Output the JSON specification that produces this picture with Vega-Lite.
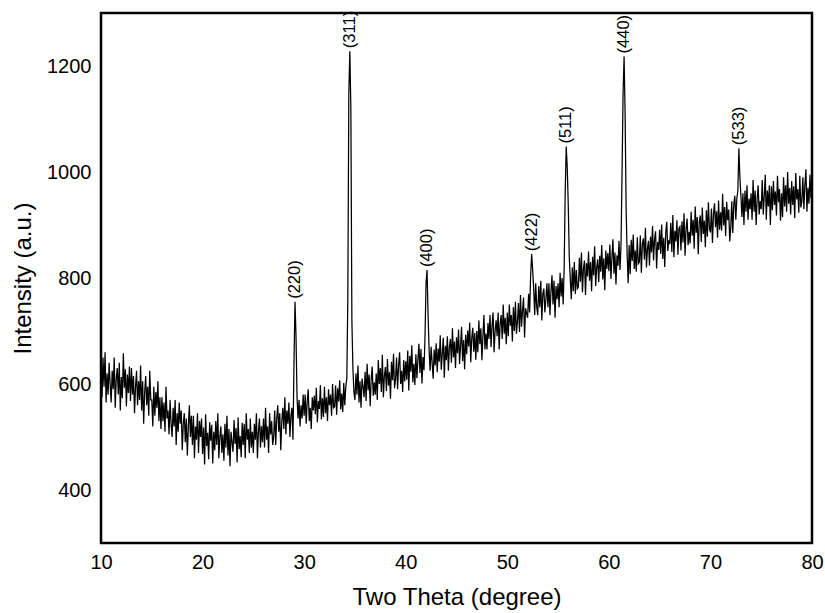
{
"$schema": "https://vega.github.io/schema/vega-lite/v6.json",
"autosize": "none",
"width": 711,
"height": 530,
"padding": {"left": 101, "top": 13, "right": 13, "bottom": 70},
"background": "white",
"config": {
"font": "Liberation Sans",
"view": {"stroke": "black", "strokeWidth": 2.5},
"axis": {"domain": false, "ticks": false, "grid": false, "labelFontSize": 20, "titleFontSize": 24, "labelColor": "black", "titleColor": "black", "titleFontWeight": "normal", "labelFont": "Liberation Sans", "titleFont": "Liberation Sans", "labelFlush": false, "labelOverlap": false}
},
"datasets": {
"xrd": [
{"x":10.0,"y":625},{"x":10.1,"y":575},{"x":10.2,"y":650},{"x":10.3,"y":595},{"x":10.4,"y":660},{"x":10.5,"y":565},{"x":10.6,"y":620},{"x":10.7,"y":580},{"x":10.8,"y":640},{"x":10.9,"y":600},
{"x":11.0,"y":565},{"x":11.1,"y":625},{"x":11.2,"y":590},{"x":11.3,"y":650},{"x":11.4,"y":555},{"x":11.5,"y":610},{"x":11.6,"y":630},{"x":11.7,"y":580},{"x":11.8,"y":640},{"x":11.9,"y":550},
{"x":12.0,"y":613},{"x":12.1,"y":573},{"x":12.2,"y":658},{"x":12.3,"y":593},{"x":12.4,"y":628},{"x":12.5,"y":558},{"x":12.6,"y":618},{"x":12.7,"y":583},{"x":12.8,"y":633},{"x":12.9,"y":568},
{"x":13.0,"y":630},{"x":13.1,"y":580},{"x":13.2,"y":615},{"x":13.3,"y":545},{"x":13.4,"y":595},{"x":13.5,"y":625},{"x":13.6,"y":560},{"x":13.7,"y":605},{"x":13.8,"y":570},{"x":13.9,"y":635},
{"x":14.0,"y":550},{"x":14.1,"y":605},{"x":14.2,"y":525},{"x":14.3,"y":585},{"x":14.4,"y":615},{"x":14.5,"y":560},{"x":14.6,"y":595},{"x":14.7,"y":540},{"x":14.8,"y":625},{"x":14.9,"y":570},
{"x":15.0,"y":570},{"x":15.1,"y":520},{"x":15.2,"y":595},{"x":15.3,"y":540},{"x":15.4,"y":585},{"x":15.5,"y":555},{"x":15.6,"y":605},{"x":15.7,"y":530},{"x":15.8,"y":575},{"x":15.9,"y":515},
{"x":16.0,"y":575},{"x":16.1,"y":530},{"x":16.2,"y":565},{"x":16.3,"y":510},{"x":16.4,"y":595},{"x":16.5,"y":535},{"x":16.6,"y":550},{"x":16.7,"y":505},{"x":16.8,"y":570},{"x":16.9,"y":525},
{"x":17.0,"y":500},{"x":17.1,"y":555},{"x":17.2,"y":520},{"x":17.3,"y":570},{"x":17.4,"y":485},{"x":17.5,"y":545},{"x":17.6,"y":510},{"x":17.7,"y":565},{"x":17.8,"y":525},{"x":17.9,"y":550},
{"x":18.0,"y":475},{"x":18.1,"y":525},{"x":18.2,"y":545},{"x":18.3,"y":490},{"x":18.4,"y":535},{"x":18.5,"y":465},{"x":18.6,"y":520},{"x":18.7,"y":560},{"x":18.8,"y":500},{"x":18.9,"y":540},
{"x":19.0,"y":485},{"x":19.1,"y":540},{"x":19.2,"y":460},{"x":19.3,"y":520},{"x":19.4,"y":495},{"x":19.5,"y":545},{"x":19.6,"y":470},{"x":19.7,"y":530},{"x":19.8,"y":500},{"x":19.9,"y":535},
{"x":20.0,"y":468},{"x":20.1,"y":518},{"x":20.2,"y":448},{"x":20.3,"y":543},{"x":20.4,"y":483},{"x":20.5,"y":508},{"x":20.6,"y":458},{"x":20.7,"y":528},{"x":20.8,"y":493},{"x":20.9,"y":523},
{"x":21.0,"y":450},{"x":21.1,"y":510},{"x":21.2,"y":475},{"x":21.3,"y":530},{"x":21.4,"y":485},{"x":21.5,"y":545},{"x":21.6,"y":460},{"x":21.7,"y":500},{"x":21.8,"y":520},{"x":21.9,"y":470},
{"x":22.0,"y":505},{"x":22.1,"y":455},{"x":22.2,"y":525},{"x":22.3,"y":480},{"x":22.4,"y":540},{"x":22.5,"y":465},{"x":22.6,"y":515},{"x":22.7,"y":445},{"x":22.8,"y":510},{"x":22.9,"y":490},
{"x":23.0,"y":472},{"x":23.1,"y":532},{"x":23.2,"y":487},{"x":23.3,"y":517},{"x":23.4,"y":452},{"x":23.5,"y":537},{"x":23.6,"y":477},{"x":23.7,"y":502},{"x":23.8,"y":462},{"x":23.9,"y":527},
{"x":24.0,"y":485},{"x":24.1,"y":525},{"x":24.2,"y":460},{"x":24.3,"y":545},{"x":24.4,"y":495},{"x":24.5,"y":515},{"x":24.6,"y":470},{"x":24.7,"y":535},{"x":24.8,"y":480},{"x":24.9,"y":510},
{"x":25.0,"y":470},{"x":25.1,"y":525},{"x":25.2,"y":495},{"x":25.3,"y":545},{"x":25.4,"y":460},{"x":25.5,"y":510},{"x":25.6,"y":535},{"x":25.7,"y":480},{"x":25.8,"y":520},{"x":25.9,"y":490},
{"x":26.0,"y":535},{"x":26.1,"y":480},{"x":26.2,"y":555},{"x":26.3,"y":495},{"x":26.4,"y":520},{"x":26.5,"y":470},{"x":26.6,"y":545},{"x":26.7,"y":505},{"x":26.8,"y":530},{"x":26.9,"y":485},
{"x":27.0,"y":500},{"x":27.1,"y":550},{"x":27.2,"y":485},{"x":27.3,"y":535},{"x":27.4,"y":560},{"x":27.5,"y":510},{"x":27.6,"y":545},{"x":27.7,"y":475},{"x":27.8,"y":530},{"x":27.9,"y":555},
{"x":28.0,"y":515},{"x":28.1,"y":575},{"x":28.2,"y":505},{"x":28.3,"y":550},{"x":28.4,"y":525},{"x":28.5,"y":565},{"x":28.6,"y":500},{"x":28.7,"y":540},{"x":28.8,"y":555},{"x":28.9,"y":495},
{"x":29.0,"y":640},{"x":29.1,"y":755},{"x":29.2,"y":690},{"x":29.3,"y":575},{"x":29.4,"y":535},{"x":29.5,"y":570},{"x":29.6,"y":520},{"x":29.7,"y":560},{"x":29.8,"y":535},{"x":29.9,"y":580},
{"x":30.0,"y":540},{"x":30.1,"y":580},{"x":30.2,"y":525},{"x":30.3,"y":565},{"x":30.4,"y":590},{"x":30.5,"y":530},{"x":30.6,"y":555},{"x":30.7,"y":515},{"x":30.8,"y":575},{"x":30.9,"y":550},
{"x":31.0,"y":578},{"x":31.1,"y":543},{"x":31.2,"y":593},{"x":31.3,"y":528},{"x":31.4,"y":568},{"x":31.5,"y":553},{"x":31.6,"y":598},{"x":31.7,"y":533},{"x":31.8,"y":573},{"x":31.9,"y":538},
{"x":32.0,"y":595},{"x":32.1,"y":545},{"x":32.2,"y":575},{"x":32.3,"y":530},{"x":32.4,"y":590},{"x":32.5,"y":560},{"x":32.6,"y":580},{"x":32.7,"y":540},{"x":32.8,"y":600},{"x":32.9,"y":555},
{"x":33.0,"y":557},{"x":33.1,"y":597},{"x":33.2,"y":542},{"x":33.3,"y":592},{"x":33.4,"y":567},{"x":33.5,"y":607},{"x":33.6,"y":552},{"x":33.7,"y":582},{"x":33.8,"y":547},{"x":33.9,"y":602},
{"x":34.0,"y":560},{"x":34.1,"y":595},{"x":34.2,"y":610},{"x":34.3,"y":760},{"x":34.4,"y":1150},{"x":34.5,"y":1228},{"x":34.6,"y":1120},{"x":34.7,"y":720},{"x":34.8,"y":630},{"x":34.9,"y":585},
{"x":35.0,"y":570},{"x":35.1,"y":620},{"x":35.2,"y":580},{"x":35.3,"y":635},{"x":35.4,"y":565},{"x":35.5,"y":605},{"x":35.6,"y":555},{"x":35.7,"y":610},{"x":35.8,"y":595},{"x":35.9,"y":575},
{"x":36.0,"y":623},{"x":36.1,"y":568},{"x":36.2,"y":638},{"x":36.3,"y":588},{"x":36.4,"y":618},{"x":36.5,"y":558},{"x":36.6,"y":608},{"x":36.7,"y":633},{"x":36.8,"y":578},{"x":36.9,"y":603},
{"x":37.0,"y":580},{"x":37.1,"y":620},{"x":37.2,"y":570},{"x":37.3,"y":645},{"x":37.4,"y":600},{"x":37.5,"y":630},{"x":37.6,"y":585},{"x":37.7,"y":655},{"x":37.8,"y":575},{"x":37.9,"y":615},
{"x":38.0,"y":632},{"x":38.1,"y":587},{"x":38.2,"y":647},{"x":38.3,"y":597},{"x":38.4,"y":622},{"x":38.5,"y":572},{"x":38.6,"y":642},{"x":38.7,"y":607},{"x":38.8,"y":657},{"x":38.9,"y":592},
{"x":39.0,"y":610},{"x":39.1,"y":650},{"x":39.2,"y":590},{"x":39.3,"y":635},{"x":39.4,"y":660},{"x":39.5,"y":600},{"x":39.6,"y":625},{"x":39.7,"y":585},{"x":39.8,"y":645},{"x":39.9,"y":605},
{"x":40.0,"y":643},{"x":40.1,"y":608},{"x":40.2,"y":663},{"x":40.3,"y":588},{"x":40.4,"y":653},{"x":40.5,"y":623},{"x":40.6,"y":673},{"x":40.7,"y":603},{"x":40.8,"y":638},{"x":40.9,"y":598},
{"x":41.0,"y":656},{"x":41.1,"y":611},{"x":41.2,"y":646},{"x":41.3,"y":676},{"x":41.4,"y":621},{"x":41.5,"y":666},{"x":41.6,"y":601},{"x":41.7,"y":651},{"x":41.8,"y":626},{"x":41.9,"y":690},
{"x":42.0,"y":790},{"x":42.1,"y":815},{"x":42.2,"y":730},{"x":42.3,"y":665},{"x":42.4,"y":625},{"x":42.5,"y":670},{"x":42.6,"y":640},{"x":42.7,"y":610},{"x":42.8,"y":665},{"x":42.9,"y":635},
{"x":43.0,"y":677},{"x":43.1,"y":622},{"x":43.2,"y":667},{"x":43.3,"y":642},{"x":43.4,"y":692},{"x":43.5,"y":627},{"x":43.6,"y":657},{"x":43.7,"y":687},{"x":43.8,"y":612},{"x":43.9,"y":672},
{"x":44.0,"y":645},{"x":44.1,"y":690},{"x":44.2,"y":625},{"x":44.3,"y":670},{"x":44.4,"y":685},{"x":44.5,"y":640},{"x":44.6,"y":705},{"x":44.7,"y":650},{"x":44.8,"y":680},{"x":44.9,"y":630},
{"x":45.0,"y":688},{"x":45.1,"y":658},{"x":45.2,"y":703},{"x":45.3,"y":638},{"x":45.4,"y":673},{"x":45.5,"y":708},{"x":45.6,"y":643},{"x":45.7,"y":683},{"x":45.8,"y":628},{"x":45.9,"y":693},
{"x":46.0,"y":656},{"x":46.1,"y":701},{"x":46.2,"y":671},{"x":46.3,"y":716},{"x":46.4,"y":641},{"x":46.5,"y":686},{"x":46.6,"y":706},{"x":46.7,"y":661},{"x":46.8,"y":696},{"x":46.9,"y":646},
{"x":47.0,"y":700},{"x":47.1,"y":660},{"x":47.2,"y":720},{"x":47.3,"y":675},{"x":47.4,"y":705},{"x":47.5,"y":645},{"x":47.6,"y":690},{"x":47.7,"y":730},{"x":47.8,"y":665},{"x":47.9,"y":695},
{"x":48.0,"y":665},{"x":48.1,"y":715},{"x":48.2,"y":685},{"x":48.3,"y":730},{"x":48.4,"y":670},{"x":48.5,"y":710},{"x":48.6,"y":735},{"x":48.7,"y":660},{"x":48.8,"y":700},{"x":48.9,"y":720},
{"x":49.0,"y":690},{"x":49.1,"y":735},{"x":49.2,"y":665},{"x":49.3,"y":715},{"x":49.4,"y":730},{"x":49.5,"y":685},{"x":49.6,"y":750},{"x":49.7,"y":695},{"x":49.8,"y":725},{"x":49.9,"y":675},
{"x":50.0,"y":735},{"x":50.1,"y":690},{"x":50.2,"y":750},{"x":50.3,"y":710},{"x":50.4,"y":730},{"x":50.5,"y":680},{"x":50.6,"y":745},{"x":50.7,"y":700},{"x":50.8,"y":755},{"x":50.9,"y":695},
{"x":51.0,"y":718},{"x":51.1,"y":753},{"x":51.2,"y":698},{"x":51.3,"y":768},{"x":51.4,"y":708},{"x":51.5,"y":738},{"x":51.6,"y":763},{"x":51.7,"y":688},{"x":51.8,"y":743},{"x":51.9,"y":733},
{"x":52.0,"y":725},{"x":52.1,"y":770},{"x":52.2,"y":735},{"x":52.3,"y":805},{"x":52.4,"y":845},{"x":52.5,"y":815},{"x":52.6,"y":780},{"x":52.7,"y":730},{"x":52.8,"y":790},{"x":52.9,"y":745},
{"x":53.0,"y":730},{"x":53.1,"y":785},{"x":53.2,"y":745},{"x":53.3,"y":795},{"x":53.4,"y":720},{"x":53.5,"y":770},{"x":53.6,"y":780},{"x":53.7,"y":735},{"x":53.8,"y":760},{"x":53.9,"y":790},
{"x":54.0,"y":745},{"x":54.1,"y":790},{"x":54.2,"y":730},{"x":54.3,"y":775},{"x":54.4,"y":805},{"x":54.5,"y":750},{"x":54.6,"y":795},{"x":54.7,"y":725},{"x":54.8,"y":785},{"x":54.9,"y":760},
{"x":55.0,"y":790},{"x":55.1,"y":745},{"x":55.2,"y":810},{"x":55.3,"y":765},{"x":55.4,"y":800},{"x":55.5,"y":750},{"x":55.6,"y":820},{"x":55.7,"y":960},{"x":55.8,"y":1048},{"x":55.9,"y":1010},
{"x":56.0,"y":940},{"x":56.1,"y":840},{"x":56.2,"y":800},{"x":56.3,"y":760},{"x":56.4,"y":820},{"x":56.5,"y":775},{"x":56.6,"y":830},{"x":56.7,"y":770},{"x":56.8,"y":815},{"x":56.9,"y":780},
{"x":57.0,"y":783},{"x":57.1,"y":838},{"x":57.2,"y":793},{"x":57.3,"y":848},{"x":57.4,"y":773},{"x":57.5,"y":818},{"x":57.6,"y":833},{"x":57.7,"y":768},{"x":57.8,"y":828},{"x":57.9,"y":803},
{"x":58.0,"y":850},{"x":58.1,"y":795},{"x":58.2,"y":830},{"x":58.3,"y":775},{"x":58.4,"y":840},{"x":58.5,"y":805},{"x":58.6,"y":860},{"x":58.7,"y":785},{"x":58.8,"y":820},{"x":58.9,"y":835},
{"x":59.0,"y":792},{"x":59.1,"y":842},{"x":59.2,"y":812},{"x":59.3,"y":862},{"x":59.4,"y":797},{"x":59.5,"y":837},{"x":59.6,"y":777},{"x":59.7,"y":852},{"x":59.8,"y":817},{"x":59.9,"y":847},
{"x":60.0,"y":813},{"x":60.1,"y":863},{"x":60.2,"y":798},{"x":60.3,"y":838},{"x":60.4,"y":873},{"x":60.5,"y":808},{"x":60.6,"y":848},{"x":60.7,"y":788},{"x":60.8,"y":843},{"x":60.9,"y":823},
{"x":61.0,"y":870},{"x":61.1,"y":815},{"x":61.2,"y":865},{"x":61.3,"y":1000},{"x":61.4,"y":1150},{"x":61.5,"y":1218},{"x":61.6,"y":1110},{"x":61.7,"y":930},{"x":61.8,"y":845},{"x":61.9,"y":790},
{"x":62.0,"y":862},{"x":62.1,"y":807},{"x":62.2,"y":872},{"x":62.3,"y":832},{"x":62.4,"y":882},{"x":62.5,"y":817},{"x":62.6,"y":852},{"x":62.7,"y":812},{"x":62.8,"y":877},{"x":62.9,"y":827},
{"x":63.0,"y":830},{"x":63.1,"y":880},{"x":63.2,"y":810},{"x":63.3,"y":865},{"x":63.4,"y":875},{"x":63.5,"y":835},{"x":63.6,"y":895},{"x":63.7,"y":820},{"x":63.8,"y":855},{"x":63.9,"y":870},
{"x":64.0,"y":823},{"x":64.1,"y":878},{"x":64.2,"y":848},{"x":64.3,"y":898},{"x":64.4,"y":833},{"x":64.5,"y":873},{"x":64.6,"y":888},{"x":64.7,"y":818},{"x":64.8,"y":868},{"x":64.9,"y":853},
{"x":65.0,"y":891},{"x":65.1,"y":846},{"x":65.2,"y":901},{"x":65.3,"y":836},{"x":65.4,"y":876},{"x":65.5,"y":821},{"x":65.6,"y":886},{"x":65.7,"y":906},{"x":65.8,"y":851},{"x":65.9,"y":871},
{"x":66.0,"y":864},{"x":66.1,"y":904},{"x":66.2,"y":849},{"x":66.3,"y":919},{"x":66.4,"y":839},{"x":66.5,"y":889},{"x":66.6,"y":869},{"x":66.7,"y":909},{"x":66.8,"y":844},{"x":66.9,"y":894},
{"x":67.0,"y":897},{"x":67.1,"y":852},{"x":67.2,"y":907},{"x":67.3,"y":867},{"x":67.4,"y":922},{"x":67.5,"y":842},{"x":67.6,"y":892},{"x":67.7,"y":912},{"x":67.8,"y":862},{"x":67.9,"y":887},
{"x":68.0,"y":865},{"x":68.1,"y":925},{"x":68.2,"y":880},{"x":68.3,"y":910},{"x":68.4,"y":855},{"x":68.5,"y":935},{"x":68.6,"y":885},{"x":68.7,"y":915},{"x":68.8,"y":845},{"x":68.9,"y":905},
{"x":69.0,"y":918},{"x":69.1,"y":868},{"x":69.2,"y":933},{"x":69.3,"y":883},{"x":69.4,"y":908},{"x":69.5,"y":858},{"x":69.6,"y":928},{"x":69.7,"y":878},{"x":69.8,"y":943},{"x":69.9,"y":893},
{"x":70.0,"y":886},{"x":70.1,"y":931},{"x":70.2,"y":866},{"x":70.3,"y":921},{"x":70.4,"y":941},{"x":70.5,"y":896},{"x":70.6,"y":926},{"x":70.7,"y":876},{"x":70.8,"y":946},{"x":70.9,"y":891},
{"x":71.0,"y":924},{"x":71.1,"y":889},{"x":71.2,"y":959},{"x":71.3,"y":899},{"x":71.4,"y":934},{"x":71.5,"y":879},{"x":71.6,"y":944},{"x":71.7,"y":909},{"x":71.8,"y":929},{"x":71.9,"y":869},
{"x":72.0,"y":895},{"x":72.1,"y":945},{"x":72.2,"y":885},{"x":72.3,"y":940},{"x":72.4,"y":955},{"x":72.5,"y":910},{"x":72.6,"y":950},{"x":72.7,"y":965},{"x":72.8,"y":1045},{"x":72.9,"y":990},
{"x":73.0,"y":955},{"x":73.1,"y":915},{"x":73.2,"y":960},{"x":73.3,"y":900},{"x":73.4,"y":965},{"x":73.5,"y":925},{"x":73.6,"y":975},{"x":73.7,"y":910},{"x":73.8,"y":950},{"x":73.9,"y":930},
{"x":74.0,"y":960},{"x":74.1,"y":910},{"x":74.2,"y":985},{"x":74.3,"y":925},{"x":74.4,"y":965},{"x":74.5,"y":900},{"x":74.6,"y":950},{"x":74.7,"y":975},{"x":74.8,"y":920},{"x":74.9,"y":945},
{"x":75.0,"y":930},{"x":75.1,"y":985},{"x":75.2,"y":920},{"x":75.3,"y":955},{"x":75.4,"y":995},{"x":75.5,"y":910},{"x":75.6,"y":965},{"x":75.7,"y":935},{"x":75.8,"y":975},{"x":75.9,"y":900},
{"x":76.0,"y":973},{"x":76.1,"y":928},{"x":76.2,"y":983},{"x":76.3,"y":938},{"x":76.4,"y":963},{"x":76.5,"y":918},{"x":76.6,"y":993},{"x":76.7,"y":943},{"x":76.8,"y":968},{"x":76.9,"y":908},
{"x":77.0,"y":960},{"x":77.1,"y":915},{"x":77.2,"y":990},{"x":77.3,"y":935},{"x":77.4,"y":975},{"x":77.5,"y":925},{"x":77.6,"y":1000},{"x":77.7,"y":940},{"x":77.8,"y":970},{"x":77.9,"y":920},
{"x":78.0,"y":983},{"x":78.1,"y":938},{"x":78.2,"y":973},{"x":78.3,"y":913},{"x":78.4,"y":998},{"x":78.5,"y":948},{"x":78.6,"y":968},{"x":78.7,"y":923},{"x":78.8,"y":993},{"x":78.9,"y":933},
{"x":79.0,"y":945},{"x":79.1,"y":990},{"x":79.2,"y":930},{"x":79.3,"y":975},{"x":79.4,"y":1005},{"x":79.5,"y":925},{"x":79.6,"y":970},{"x":79.7,"y":940},{"x":79.8,"y":995},{"x":79.9,"y":950},
{"x":80.0,"y":960}
],
"peaks": [
{"x":29.1,"y":755,"label":"(220)"},
{"x":34.5,"y":1228,"label":"(311)"},
{"x":42.1,"y":815,"label":"(400)"},
{"x":52.4,"y":845,"label":"(422)"},
{"x":55.8,"y":1048,"label":"(511)"},
{"x":61.5,"y":1218,"label":"(440)"},
{"x":72.8,"y":1045,"label":"(533)"}
]
},
"layer": [
{
"data": {"name": "xrd"},
"mark": {"type": "line", "color": "black", "strokeWidth": 1.25, "clip": true},
"encoding": {
"x": {"field": "x", "type": "quantitative", "scale": {"domain": [10, 80], "nice": false, "zero": false}, "axis": {"values": [10,20,30,40,50,60,70,80], "format": "d", "title": "Two Theta (degree)", "labelPadding": 9, "titlePadding": 13}},
"y": {"field": "y", "type": "quantitative", "scale": {"domain": [300, 1300], "nice": false, "zero": false}, "axis": {"values": [400,600,800,1000,1200], "format": "d", "title": "Intensity (a.u.)", "labelPadding": 10, "titlePadding": 11}}
}
},
{
"data": {"name": "peaks"},
"mark": {"type": "text", "angle": 270, "align": "left", "baseline": "middle", "dx": 3, "fontSize": 16.5, "color": "black", "font": "Liberation Sans"},
"encoding": {
"x": {"field": "x", "type": "quantitative"},
"y": {"field": "y", "type": "quantitative"},
"text": {"field": "label"}
}
}
]
}
